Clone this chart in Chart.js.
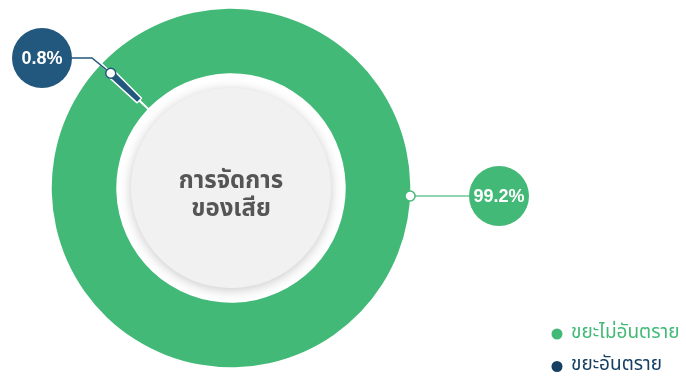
<!DOCTYPE html>
<html lang="th">
<head>
<meta charset="utf-8">
<title>การจัดการของเสีย</title>
<script src="https://cdn.jsdelivr.net/npm/chart.js@4.4.1/dist/chart.umd.min.js"></script>
<style>
  html, body { margin: 0; padding: 0; background: #fff; }
  #wrap { width: 686px; height: 378px; position: relative; }
</style>
</head>
<body>
<div id="wrap"><canvas id="wasteChart" width="686" height="378"></canvas></div>
<script>
// waste split (percent)
const wasteLabels = ['ขยะไม่อันตราย', 'ขยะอันตราย'];
const wasteShares = [99.2, 0.8];
const wasteColors = ['#43b977', '#22577e'];
const legendColors = ['#43b977', '#173f62'];
const centerTitle = ['การจัดการ', 'ของเสีย'];

const thaiFont = "'Noto Sans Thai', 'Noto Sans Thai UI', 'Noto Sans', sans-serif";
const numFont = "'Liberation Sans', Arial, sans-serif";

document.addEventListener('DOMContentLoaded', function () {
    const ctx = document.getElementById('wasteChart').getContext('2d');

    // the tiny slice is drawn as a short bar inside the ring, the big one closes around it
    const sliverPlugin = {
        id: 'sliver',
        afterDatasetsUpdate(chart) {
            const arcs = chart.getDatasetMeta(0).data;
            const big = arcs[0], small = arcs[1];
            const gap = 3 / big.outerRadius;
            const grow = Math.max((small.circumference - gap) / 2, 0);
            big.startAngle -= grow;
            big.endAngle += grow;
            big.circumference += grow * 2;
            small.outerRadius -= 13;
            small.innerRadius += 12;
        }
    };

    // grey disc in the hole with the title
    const centerPlugin = {
        id: 'centerDisc',
        beforeDatasetsDraw(chart) {
            const arc = chart.getDatasetMeta(0).data[0];
            const c = chart.ctx;
            c.save();
            c.shadowColor = 'rgba(0,0,0,0.22)';
            c.shadowBlur = 12;
            c.shadowOffsetY = 2;
            c.fillStyle = '#f1f1f1';
            c.beginPath();
            c.arc(arc.x, arc.y, 100, 0, Math.PI * 2);
            c.fill();
            c.restore();
        },
        afterDatasetsDraw(chart) {
            const arc = chart.getDatasetMeta(0).data[0];
            const c = chart.ctx;
            c.save();
            c.fillStyle = '#555555';
            c.font = 'bold 24px ' + thaiFont;
            c.textAlign = 'center';
            c.textBaseline = 'alphabetic';
            c.fillText(centerTitle[0], arc.x, arc.y);
            c.fillText(centerTitle[1], arc.x, arc.y + 28);
            c.restore();
        }
    };

    // value bubbles with leader lines
    const calloutPlugin = {
        id: 'callouts',
        afterDatasetsDraw(chart) {
            const arcs = chart.getDatasetMeta(0).data;
            const c = chart.ctx;
            const cx = arcs[0].x, cy = arcs[0].y;
            const R = arcs[0].outerRadius;

            // big slice: anchor on the outer edge, right side
            const a0 = 2.56 * Math.PI / 180;
            const big = {
                dot: [cx + Math.cos(a0) * R, cy + Math.sin(a0) * R],
                path: [],
                bubble: [cx + 268, cy + 8],
                line: '#6cc896'
            };
            // small slice: anchor at the top of its bar
            const s = arcs[1];
            const mid = (s.startAngle + s.endAngle) / 2;
            const small = {
                dot: [cx + Math.cos(mid) * s.outerRadius, cy + Math.sin(mid) * s.outerRadius],
                path: [[cx - 139, cy - 130]],
                bubble: [cx - 189, cy - 130],
                line: wasteColors[1]
            };
            const items = [big, small];

            items.forEach((it, i) => {
                const br = 30;
                c.save();
                c.strokeStyle = it.line;
                c.lineWidth = 1.5;
                c.beginPath();
                c.moveTo(it.dot[0], it.dot[1]);
                it.path.forEach(p => c.lineTo(p[0], p[1]));
                const last = it.path.length ? it.path[it.path.length - 1] : it.dot;
                const dir = it.bubble[0] > last[0] ? -1 : 1;
                c.lineTo(it.bubble[0] + dir * br, it.bubble[1]);
                c.stroke();

                c.fillStyle = wasteColors[i];
                c.beginPath();
                c.arc(it.bubble[0], it.bubble[1], br, 0, Math.PI * 2);
                c.fill();

                c.fillStyle = '#ffffff';
                c.strokeStyle = wasteColors[i];
                c.lineWidth = 1.5;
                c.beginPath();
                c.arc(it.dot[0], it.dot[1], 5, 0, Math.PI * 2);
                c.fill();
                c.stroke();

                c.fillStyle = '#ffffff';
                c.font = 'bold 18px ' + numFont;
                c.textAlign = 'center';
                c.textBaseline = 'middle';
                c.fillText(wasteShares[i].toFixed(1) + '%', it.bubble[0], it.bubble[1] + 1);
                c.restore();
            });
        }
    };

    // legend in the bottom right corner
    const legendPlugin = {
        id: 'cornerLegend',
        afterDraw(chart) {
            const c = chart.ctx;
            c.save();
            chart.data.labels.forEach((label, i) => {
                const y = 334 + i * 32.5;
                c.fillStyle = legendColors[i];
                c.beginPath();
                c.arc(557, y, 5.5, 0, Math.PI * 2);
                c.fill();
                c.font = '19px ' + thaiFont;
                c.textAlign = 'left';
                c.textBaseline = 'middle';
                c.fillText(label, 571, y);
            });
            c.restore();
        }
    };

    new Chart(ctx, {
        type: 'doughnut',
        data: {
            labels: wasteLabels,
            datasets: [{
                data: wasteShares,
                backgroundColor: wasteColors,
                borderColor: '#ffffff',
                borderWidth: [0, 1.5],
                hoverOffset: 0
            }]
        },
        options: {
            responsive: false,
            animation: false,
            events: [],
            cutout: '64%',
            rotation: -44.9,
            layout: { padding: { left: 51, right: 275, top: 8, bottom: 10 } },
            plugins: {
                legend: { display: false },
                tooltip: { enabled: false }
            }
        },
        plugins: [sliverPlugin, centerPlugin, calloutPlugin, legendPlugin]
    });
});
</script>
</body>
</html>
